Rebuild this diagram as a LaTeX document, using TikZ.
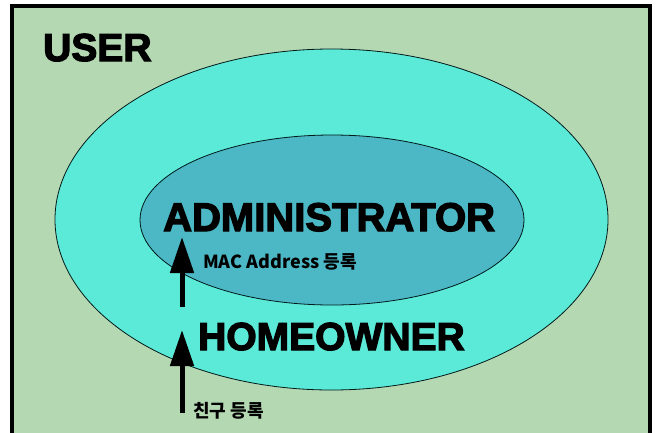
\documentclass[tikz,border=0pt]{standalone}
\usepackage{fontspec}
\usetikzlibrary{arrows.meta}
\newfontfamily\heavy{Liberation Sans}[FakeBold=3.2]
\newfontfamily\cjk{Noto Sans CJK KR}
\definecolor{bggreen}{RGB}{180,216,178}
\definecolor{outercyan}{RGB}{92,234,216}
\definecolor{innerteal}{RGB}{76,184,198}
\tikzset{
  bigtext/.style={inner sep=0pt, anchor=base west, font=\heavy\bfseries},
  smalltext/.style={inner sep=0pt, anchor=base west, font=\cjk\bfseries\fontsize{18}{20}\selectfont},
  uparrow/.style={line width=5pt, -{Triangle[length=36pt,width=23pt]}},
  ring/.style={draw=black!80!teal, line width=0.8pt}
}
\begin{document}
\begin{tikzpicture}[x=1pt,y=-1pt]
\clip (0,0) rectangle (658,432);
\fill[white] (0,0) rectangle (658,432);
\draw[fill=bggreen, line width=4pt] (12,6) rectangle (650,450);
\draw[ring, fill=outercyan] (331.5,219.5) ellipse [x radius=276.5, y radius=170.5];
\draw[ring, fill=innerteal] (332,220) ellipse [x radius=192, y radius=85];
\node[bigtext, font=\heavy\bfseries\fontsize{39}{42}\selectfont] (user) at (43,61) {USER};
\node[bigtext, font=\heavy\bfseries\fontsize{40}{44}\selectfont] (admin) at (163,231) {ADMINISTRATOR};
\node[bigtext, font=\heavy\bfseries\fontsize{39}{42}\selectfont] (home) at (198,350) {HOMEOWNER};
\node[smalltext] (mac) at (203,268) {MAC Address 등록};
\node[smalltext] (friend) at (193,417) {친구 등록};
\coordinate (a1tail) at (182,307);
\coordinate (a1tip) at (182,237);
\coordinate (a2tail) at (182,413);
\coordinate (a2tip) at (182,330);
\draw[uparrow] (a1tail) -- (a1tip);
\draw[uparrow] (a2tail) -- (a2tip);
\end{tikzpicture}
\end{document}
